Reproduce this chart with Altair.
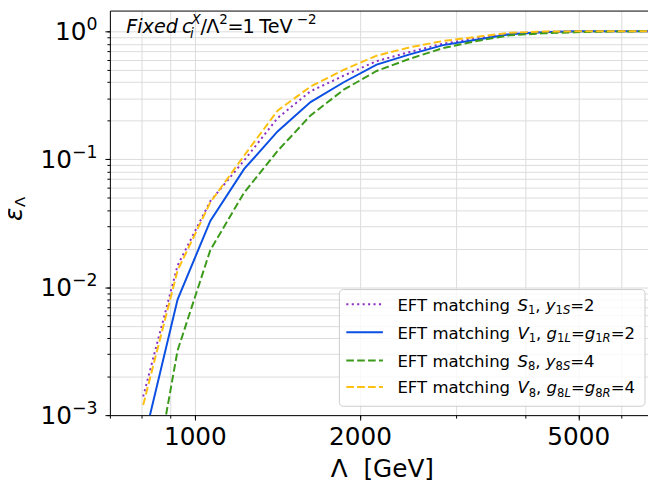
import altair as alt
import pandas as pd

# ---------------- data ----------------
lam = [805, 930, 1067, 1230, 1415, 1625, 1868, 2145, 2465, 2835, 3260, 3745, 4305, 4950, 5690, 6540, 7500]
eps_S1 = [0.0014, 0.0148, 0.047, 0.098, 0.21, 0.34, 0.45, 0.585, 0.69, 0.80, 0.88, 0.96, 0.99, 1.0, 1.0, 1.0, 1.0]
eps_V1 = [0.0006, 0.0080, 0.033, 0.084, 0.165, 0.28, 0.40, 0.55, 0.66, 0.78, 0.86, 0.95, 0.985, 1.0, 1.0, 1.0, 1.0]
eps_S8 = [0.0001, 0.0032, 0.0195, 0.055, 0.116, 0.22, 0.35, 0.49, 0.61, 0.74, 0.84, 0.93, 0.965, 0.985, 0.995, 1.0, 1.0]
eps_V8 = [0.0012, 0.0135, 0.046, 0.107, 0.24, 0.37, 0.50, 0.645, 0.75, 0.84, 0.905, 0.975, 0.995, 1.0, 1.0, 1.0, 1.0]

x_major = [1000, 2000, 5000]
x_minor = [700, 800, 900, 1000, 2000, 3000, 4000, 5000, 6000]
y_major = [1.0, 0.1, 0.01, 0.001]
y_major_exp = ["0", "\u22121", "\u22122", "\u22123"]
y_minor = [m * 10.0 ** e for e in (-3, -2, -1) for m in range(1, 10)] + [1.0]

series = [
    ("S1", eps_S1, "#8c2fc4", [2.1, 3.4]),
    ("V1", eps_V1, "#0b4fe3", None),
    ("S8", eps_S8, "#3b9a1a", [7.7, 3.3]),
    ("V8", eps_V8, "#fdc010", [7.7, 3.3]),
]
legend_rows = [
    [("S", "it"), ("1", "sub"), (", ", "rm"), ("y", "it"), ("1", "sub"), ("S", "subit"), ("=", "rm"), ("2", "rm")],
    [("V", "it"), ("1", "sub"), (", ", "rm"), ("g", "it"), ("1", "sub"), ("L", "subit"), ("=", "rm"),
     ("g", "it"), ("1", "sub"), ("R", "subit"), ("=", "rm"), ("2", "rm")],
    [("S", "it"), ("8", "sub"), (", ", "rm"), ("y", "it"), ("8", "sub"), ("S", "subit"), ("=", "rm"), ("4", "rm")],
    [("V", "it"), ("8", "sub"), (", ", "rm"), ("g", "it"), ("8", "sub"), ("L", "subit"), ("=", "rm"),
     ("g", "it"), ("8", "sub"), ("R", "subit"), ("=", "rm"), ("4", "rm")],
]

# ---------------- layout ----------------
FONT = "DejaVu Sans"
W, H = 544, 409
xs = alt.Scale(type="log", domain=[700, 6700], nice=False)
ys = alt.Scale(type="log", domain=[0.001, 1.453], nice=False)
GRID = "#dcdcdc"

def one(**kw):
    return pd.DataFrame({k: [v] for k, v in kw.items()} if kw else {"a": [0]})

def txt(s, x, y, size, style="normal", align="left", baseline="alphabetic", angle=0):
    return alt.Chart(one(t=s)).mark_text(
        align=align, baseline=baseline, fontSize=size, font=FONT, fontStyle=style,
        angle=angle, color="black"
    ).encode(x=alt.value(x), y=alt.value(y), text="t:N")

layers = []
for i, (name, vals, color, dash) in enumerate(series):
    df = pd.DataFrame({"lam": lam, "eps": vals})
    mk = dict(color=color, strokeWidth=2, clip=True)
    if dash:
        mk["strokeDash"] = dash
    if i == 0:
        xax = alt.Axis(orient="bottom", values=x_minor, grid=True, gridColor=GRID, gridWidth=1,
                       ticks=True, tickSize=3, tickColor="black", tickWidth=1,
                       labels=False, domain=False, title=None)
        yax = alt.Axis(orient="left", values=y_minor, grid=True, gridColor=GRID, gridWidth=1,
                       ticks=True, tickSize=3, tickColor="black", tickWidth=1,
                       labels=False, domain=False, title=None)
    elif i == 1:
        xax = alt.Axis(orient="bottom", values=x_major, grid=False, ticks=True, tickSize=5,
                       tickColor="black", tickWidth=1, labels=True, labelFont=FONT,
                       labelFontSize=25, labelColor="black", labelBaseline="alphabetic",
                       labelPadding=24.5, labelExpr="format(datum.value, 'd')",
                       domain=True, domainColor="black", domainWidth=1,
                       title="\u039b\u00a0\u00a0[GeV]", titleFont=FONT, titleFontSize=25,
                       titleFontWeight="normal", titleColor="black",
                       titleBaseline="alphabetic", titleY=62, titleX=275)
        yax = alt.Axis(orient="left", values=y_major, grid=False, ticks=True, tickSize=5,
                       tickColor="black", tickWidth=1, labels=False, domain=True,
                       domainColor="black", domainWidth=1, title=None)
    elif i == 2:
        xax = alt.Axis(orient="top", values=x_major, grid=False, ticks=False, labels=False,
                       domain=True, domainColor="black", domainWidth=1, title=None)
        yax = None
    else:
        xax = None
        yax = None
    layers.append(
        alt.Chart(df).mark_line(**mk).encode(
            x=alt.X("lam:Q", scale=xs, axis=xax),
            y=alt.Y("eps:Q", scale=ys, axis=yax),
        )
    )

# y tick labels 10^k
for v, e in zip(y_major, y_major_exp):
    ew = sum(0.838 if c == "\u2212" else 0.636 for c in e) * 17.5
    ex = -12.5
    layers.append(
        alt.Chart(one(v=v, t=e)).mark_text(align="right", baseline="alphabetic", fontSize=17.5,
                                           font=FONT, color="black", dy=-1)
        .encode(x=alt.value(ex), y=alt.Y("v:Q", scale=ys, axis=None), text="t:N"))
    layers.append(
        alt.Chart(one(v=v, t="10")).mark_text(align="right", baseline="alphabetic", fontSize=25,
                                              font=FONT, color="black", dy=9)
        .encode(x=alt.value(ex - ew), y=alt.Y("v:Q", scale=ys, axis=None), text="t:N"))

# y axis title  epsilon_Lambda
layers.append(txt("\u03b5", -88.5, 206, 25, style="italic", align="center", angle=270))
layers.append(txt("\u039b", -85.5, 193.5, 15, align="center", angle=270))

# top-left annotation: Fixed c_i^X / Lambda^2 = 1 TeV^-2
BL = 22.7
ann = [
    ("Fixed", 16.5, 0, 19.4, "italic"),
    ("c", 73, 0, 19.4, "italic"),
    ("i", 81, 5, 13.6, "italic"),
    ("X", 82.5, -8.7, 13.6, "italic"),
    ("/", 91.5, 0, 19.4, "normal"),
    ("\u039b", 97.5, 0, 19.4, "normal"),
    ("2", 110.5, -8.7, 13.6, "normal"),
    ("=", 119, 0, 19.4, "normal"),
    ("1", 134, 0, 19.4, "normal"),
    ("TeV", 151, 0, 19.4, "normal"),
    ("\u22122", 189, -8.7, 13.6, "normal"),
]
for s, x, dy, size, st in ann:
    layers.append(txt(s, x, BL + dy, size, style=st))

# legend
layers.append(
    alt.Chart(one()).mark_rect(fill="white", fillOpacity=0.8, stroke="#cccccc", strokeWidth=1,
                               cornerRadius=4)
    .encode(x=alt.value(232), x2=alt.value(541), y=alt.value(282), y2=alt.value(400)))
ADV = {"S": 0.635, "V": 0.684, "y": 0.592, "g": 0.635, "L": 0.557, "R": 0.695,
       "1": 0.636, "8": 0.636, "2": 0.636, "4": 0.636, ",": 0.318, " ": 0.318, "=": 0.838}
row_y = [297, 325.3, 353.7, 380.5]
for (name, vals, color, dash), ry, toks in zip(series, row_y, legend_rows):
    rk = dict(color=color, strokeWidth=2)
    if dash:
        rk["strokeDash"] = dash
    layers.append(alt.Chart(one()).mark_rule(**rk).encode(
        x=alt.value(239), x2=alt.value(276), y=alt.value(ry)))
    base = ry + 6.3
    layers.append(txt("EFT matching", 290.7, base, 16.7))
    cx = 412
    for s, kind in toks:
        size = 16.7 if kind in ("it", "rm") else 11.7
        st = "italic" if kind in ("it", "subit") else "normal"
        yy = base if kind in ("it", "rm") else base + 3.8
        layers.append(txt(s, cx, yy, size, style=st))
        cx += sum(ADV[c] for c in s) * size

chart = alt.layer(*layers).resolve_axis(x="independent", y="independent").properties(
    width=W, height=H,
    autosize=alt.AutoSizeParams(type="none"),
    padding={"left": 103, "top": 0, "right": 0, "bottom": 66},
).configure_view(stroke=None)

chart.save("out.html", embed_options={"renderer": "svg", "actions": False})
